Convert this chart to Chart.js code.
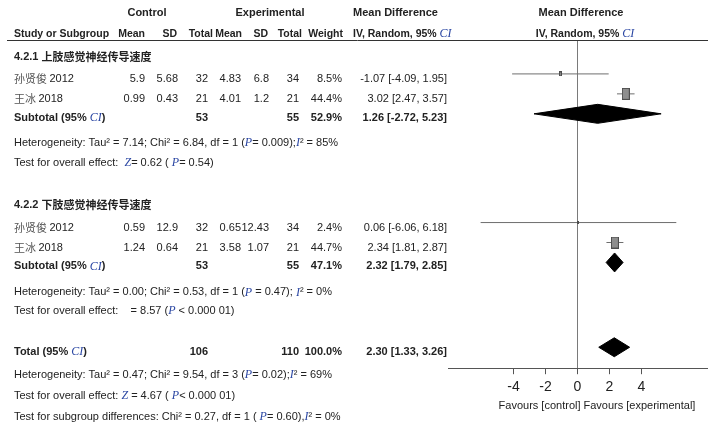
<!DOCTYPE html>
<html>
<head>
<meta charset="utf-8">
<script src="https://cdn.jsdelivr.net/npm/chart.js@4.4.1/dist/chart.umd.min.js"></script>
<style>
  html, body { margin: 0; padding: 0; background: #fff; }
  canvas { display: block; }
</style>
</head>
<body>
<canvas id="forest" width="721" height="430"></canvas>
<script>
// Study level data
const studies = ['孙贤俊 2012', '王冰 2018', '孙贤俊 2012', '王冰 2018'];
const ctrlMean = [5.9, 0.99, 0.59, 1.24];
const ctrlSD = [5.68, 0.43, 12.9, 0.64];
const ctrlN = [32, 21, 32, 21];
const expMean = [4.83, 4.01, 0.65, 3.58];
const expSD = [6.8, 1.2, 12.43, 1.07];
const expN = [34, 21, 34, 21];
const weight = [8.5, 44.4, 2.4, 44.7];
const md = [-1.07, 3.02, 0.06, 2.34];
const mdLow = [-4.09, 2.47, -6.06, 1.81];
const mdHigh = [1.95, 3.57, 6.18, 2.87];

// Subgroup data
const groupNames = ['4.2.1 ', '4.2.2 '];
const groupTitles = ['上肢感觉神经传导速度', '下肢感觉神经传导速度'];
const groupCtrlN = [53, 53];
const groupExpN = [55, 55];
const groupWeight = [52.9, 47.1];
const groupMd = [1.26, 2.32];
const groupLow = [-2.72, 1.79];
const groupHigh = [5.23, 2.85];

// Overall
const totalCtrlN = 106;
const totalExpN = 110;
const totalWeight = 100.0;
const totalMd = 2.30;
const totalLow = 1.33;
const totalHigh = 3.26;

const xTicks = [-4, -2, 0, 2, 4];

// Row layout (y scale units = px from top of the page)
const studyRowY = [79, 99, 228, 248];
const groupTitleY = [57, 205];
const subtotalY = [118, 267];
const hetY = [143, 293];
const effectY = [163, 312];
const totalY = 353;
const totalHetY = 376;
const totalEffectY = 397;
const subgroupTestY = 418;
const MARK_DY = -5;
const DIAMOND_H = 9.5;

// column right edges in the table
const COL = { ctrlMean: 145, ctrlSD: 178, ctrlN: 208, expMean: 241, expSD: 269, expN: 299, weight: 342, md: 447 };

const FONT = '"Liberation Sans", Arial, sans-serif';
const STYLES = {
    n: { font: '11px ' + FONT, color: '#222' },
    b: { font: 'bold 11px ' + FONT, color: '#222' },
    h: { font: 'bold 10.5px ' + FONT, color: '#222' },
    i: { font: 'italic 12px "Liberation Serif", serif', color: '#2b47a3' },
    c: { font: '11px "Noto Sans CJK SC", sans-serif', color: '#555' },
    cb: { font: 'bold 11px "Noto Sans CJK SC", sans-serif', color: '#222' }
};

// Small helper to draw mixed-style text
function drawRich(ctx, parts, x, y, align) {
    let total = 0;
    parts.forEach(p => { ctx.font = STYLES[p[1]].font; total += ctx.measureText(p[0]).width; });
    let cx = align === 'right' ? x - total : align === 'center' ? x - total / 2 : x;
    ctx.textAlign = 'left';
    ctx.textBaseline = 'middle';
    parts.forEach(p => {
        ctx.font = STYLES[p[1]].font;
        ctx.fillStyle = STYLES[p[1]].color;
        ctx.fillText(p[0], cx, y);
        cx += ctx.measureText(p[0]).width;
    });
}

const fmtCI = (m, l, h) => m.toFixed(2) + ' [' + l.toFixed(2) + ', ' + h.toFixed(2) + ']';

// square markers scaled with study weight
const squareStyles = weight.map(w => {
    const c = document.createElement('canvas');
    const wd = Math.max(2, Math.round(1.2 * Math.sqrt(w)));
    const ht = Math.max(2, Math.round(1.85 * Math.sqrt(w)));
    c.width = wd;
    c.height = ht;
    const g = c.getContext('2d');
    g.fillStyle = '#8e8e8e';
    g.fillRect(0, 0, wd, ht);
    g.strokeStyle = '#4d4d4d';
    g.lineWidth = 1;
    g.strokeRect(0.5, 0.5, wd - 1, ht - 1);
    return c;
});

function diamond(est, lo, hi, y) {
    return [
        { x: lo, y: y },
        { x: est, y: y - DIAMOND_H },
        { x: hi, y: y },
        { x: est, y: y + DIAMOND_H },
        { x: lo, y: y }
    ];
}

const datasets = [];
datasets.push({
    type: 'scatter',
    data: md.map((m, i) => ({ x: m, y: studyRowY[i] + MARK_DY })),
    pointStyle: ctx => squareStyles[ctx.dataIndex] || 'rect',
    pointRadius: 5,
    showLine: false
});
md.forEach((m, i) => {
    const y = studyRowY[i] + MARK_DY;
    datasets.push({
        type: 'line',
        data: [{ x: mdLow[i], y: y }, { x: mdHigh[i], y: y }],
        borderColor: '#6e6e6e',
        borderWidth: 1,
        pointRadius: 0,
        fill: false
    });
});
groupMd.forEach((m, g) => {
    datasets.push({
        type: 'line',
        data: diamond(m, groupLow[g], groupHigh[g], subtotalY[g] + MARK_DY + 1),
        borderColor: '#000',
        backgroundColor: '#000',
        borderWidth: 1,
        pointRadius: 0,
        fill: 'shape'
    });
});
datasets.push({
    type: 'line',
    data: diamond(totalMd, totalLow, totalHigh, totalY + MARK_DY),
    borderColor: '#000',
    backgroundColor: '#000',
    borderWidth: 1,
    pointRadius: 0,
    fill: 'shape'
});

const tablePlugin = {
    id: 'table',
    beforeDraw(chart) {
        const ctx = chart.ctx;
        ctx.save();
        ctx.fillStyle = '#fff';
        ctx.fillRect(0, 0, chart.width, chart.height);
        ctx.restore();
    },
    afterDraw(chart) {
        const ctx = chart.ctx;
        const ys = chart.scales.y;
        const xs = chart.scales.x;
        const yp = v => ys.getPixelForValue(v);
        ctx.save();

        // headers
        drawRich(ctx, [['Control', 'b']], 147, 13, 'center');
        drawRich(ctx, [['Experimental', 'b']], 270, 13, 'center');
        drawRich(ctx, [['Mean Difference', 'b']], 353, 13, 'left');
        drawRich(ctx, [['Mean Difference', 'b']], 581, 13, 'center');
        drawRich(ctx, [['Study or Subgroup', 'h']], 14, 34, 'left');
        [['Mean', 145], ['SD', 177], ['Total', 213], ['Mean', 242], ['SD', 268], ['Total', 302], ['Weight', 343]]
            .forEach(h => drawRich(ctx, [[h[0], 'h']], h[1], 34, 'right'));
        drawRich(ctx, [['IV, Random, 95% ', 'h'], ['CI', 'i']], 353, 34, 'left');
        drawRich(ctx, [['IV, Random, 95% ', 'h'], ['CI', 'i']], 585, 34, 'center');

        ctx.strokeStyle = '#333';
        ctx.lineWidth = 1;
        ctx.beginPath();
        ctx.moveTo(7, Math.round(yp(40)) + 0.5);
        ctx.lineTo(708, Math.round(yp(40)) + 0.5);
        ctx.stroke();

        // subgroups
        [0, 1].forEach(g => {
            drawRich(ctx, [[groupNames[g], 'b'], [groupTitles[g], 'cb']], 14, yp(groupTitleY[g]), 'left');
            studies.forEach((s, i) => {
                if ((i < 2 ? 0 : 1) !== g) return;
                const y = yp(studyRowY[i]);
                const parts = s.split(' ');
                drawRich(ctx, [[parts[0] + ' ', 'c'], [parts[1], 'n']], 14, y, 'left');
                drawRich(ctx, [[String(ctrlMean[i]), 'n']], COL.ctrlMean, y, 'right');
                drawRich(ctx, [[String(ctrlSD[i]), 'n']], COL.ctrlSD, y, 'right');
                drawRich(ctx, [[String(ctrlN[i]), 'n']], COL.ctrlN, y, 'right');
                drawRich(ctx, [[String(expMean[i]), 'n']], COL.expMean, y, 'right');
                drawRich(ctx, [[String(expSD[i]), 'n']], COL.expSD, y, 'right');
                drawRich(ctx, [[String(expN[i]), 'n']], COL.expN, y, 'right');
                drawRich(ctx, [[weight[i].toFixed(1) + '%', 'n']], COL.weight, y, 'right');
                drawRich(ctx, [[fmtCI(md[i], mdLow[i], mdHigh[i]), 'n']], COL.md, y, 'right');
            });
            const sy = yp(subtotalY[g]);
            drawRich(ctx, [['Subtotal (95% ', 'b'], ['CI', 'i'], [')', 'b']], 14, sy, 'left');
            drawRich(ctx, [[String(groupCtrlN[g]), 'b']], COL.ctrlN, sy, 'right');
            drawRich(ctx, [[String(groupExpN[g]), 'b']], COL.expN, sy, 'right');
            drawRich(ctx, [[groupWeight[g].toFixed(1) + '%', 'b']], COL.weight, sy, 'right');
            drawRich(ctx, [[fmtCI(groupMd[g], groupLow[g], groupHigh[g]), 'b']], COL.md, sy, 'right');
        });

        drawRich(ctx, [['Heterogeneity: Tau² = 7.14; Chi² = 6.84, df = 1 (', 'n'], ['P', 'i'], ['= 0.009);', 'n'], ['I', 'i'], ['² = 85%', 'n']], 14, yp(hetY[0]), 'left');
        drawRich(ctx, [['Test for overall effect:  ', 'n'], ['Z', 'i'], ['= 0.62 ( ', 'n'], ['P', 'i'], ['= 0.54)', 'n']], 14, yp(effectY[0]), 'left');
        drawRich(ctx, [['Heterogeneity: Tau² = 0.00; Chi² = 0.53, df = 1 (', 'n'], ['P', 'i'], [' = 0.47); ', 'n'], ['I', 'i'], ['² = 0%', 'n']], 14, yp(hetY[1]), 'left');
        drawRich(ctx, [['Test for overall effect:    = 8.57 (', 'n'], ['P', 'i'], [' < 0.000 01)', 'n']], 14, yp(effectY[1]), 'left');

        // total
        const ty = yp(totalY);
        drawRich(ctx, [['Total (95% ', 'b'], ['CI', 'i'], [')', 'b']], 14, ty, 'left');
        drawRich(ctx, [[String(totalCtrlN), 'b']], COL.ctrlN, ty, 'right');
        drawRich(ctx, [[String(totalExpN), 'b']], COL.expN, ty, 'right');
        drawRich(ctx, [[totalWeight.toFixed(1) + '%', 'b']], COL.weight, ty, 'right');
        drawRich(ctx, [[fmtCI(totalMd, totalLow, totalHigh), 'b']], COL.md, ty, 'right');
        drawRich(ctx, [['Heterogeneity: Tau² = 0.47; Chi² = 9.54, df = 3 (', 'n'], ['P', 'i'], ['= 0.02);', 'n'], ['I', 'i'], ['² = 69%', 'n']], 14, yp(totalHetY), 'left');
        drawRich(ctx, [['Test for overall effect: ', 'n'], ['Z', 'i'], [' = 4.67 ( ', 'n'], ['P', 'i'], ['< 0.000 01)', 'n']], 14, yp(totalEffectY), 'left');
        drawRich(ctx, [['Test for subgroup differences: Chi² = 0.27, df = 1 ( ', 'n'], ['P', 'i'], ['= 0.60),', 'n'], ['I', 'i'], ['² = 0%', 'n']], 14, yp(subgroupTestY), 'left');

        // favours labels
        const x0 = xs.getPixelForValue(0);
        drawRich(ctx, [['Favours [control]', 'n']], x0 + 3, 406, 'right');
        drawRich(ctx, [['Favours [experimental]', 'n']], x0 + 6, 406, 'left');
        ctx.restore();
    }
};

new Chart(document.getElementById('forest').getContext('2d'), {
    type: 'scatter',
    data: { datasets: datasets },
    plugins: [tablePlugin],
    options: {
        responsive: false,
        animation: false,
        layout: { padding: { left: 448, right: 14, top: 40, bottom: 29 } },
        plugins: {
            legend: { display: false },
            tooltip: { enabled: false }
        },
        scales: {
            x: {
                type: 'linear',
                min: -8.1,
                max: 8.1,
                afterBuildTicks: axis => { axis.ticks = xTicks.map(v => ({ value: v })); },
                ticks: {
                    font: { family: FONT, size: 14 },
                    color: '#222',
                    padding: 5,
                    maxRotation: 0
                },
                grid: {
                    color: ctx => (ctx.tick && ctx.tick.value === 0) ? '#7a7a7a' : 'rgba(0,0,0,0)',
                    tickColor: '#555',
                    tickLength: 6,
                    lineWidth: 1
                },
                border: { display: true, color: '#555', width: 1 }
            },
            y: {
                type: 'linear',
                display: false,
                min: 40,
                max: 369,
                reverse: true
            }
        }
    }
});
</script>
</body>
</html>
